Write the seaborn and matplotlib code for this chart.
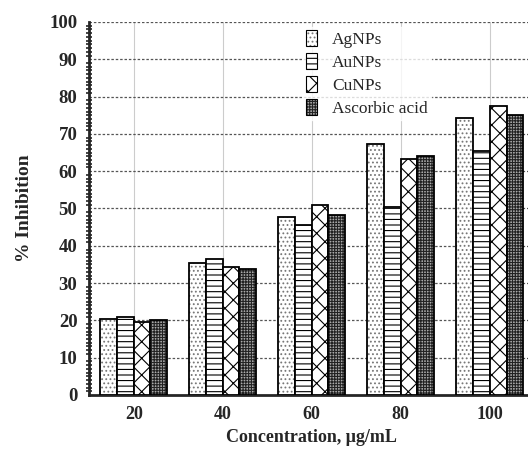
import numpy as np
import pandas as pd
import matplotlib
matplotlib.use("Agg")
import matplotlib.pyplot as plt
import seaborn as sns
from matplotlib.ticker import MultipleLocator

concentrations = ["20", "40", "60", "80", "100"]
agnps = [20.5, 35.3, 47.7, 67.3, 74.2]
aunps = [21.0, 36.5, 45.7, 50.3, 65.3]
cunps = [19.5, 34.2, 50.8, 63.2, 77.5]
ascorbic = [20.0, 33.8, 48.3, 64.2, 75.0]
series_names = ["AgNPs", "AuNPs", "CuNPs", "Ascorbic acid"]

rows = []
for name, vals in zip(series_names, [agnps, aunps, cunps, ascorbic]):
    for c, v in zip(concentrations, vals):
        rows.append({"Concentration": c, "Inhibition": v, "Sample": name})
df = pd.DataFrame(rows)

sns.set_style("white")
plt.rcParams['font.family'] = ['Liberation Serif', 'DejaVu Serif']
plt.rcParams['hatch.linewidth'] = 0.8

fig = plt.figure(figsize=(5.28, 4.58), dpi=100)
ax = fig.add_axes([0.169, 0.1376, 0.843, 0.8144])

sns.barplot(data=df, x="Concentration", y="Inhibition", hue="Sample",
            order=concentrations, hue_order=series_names,
            width=0.75, palette=["white", "white", "white", "#bbbbbb"],
            edgecolor="black", linewidth=1.3, ax=ax, zorder=3)

hatches = ["....", "---", "xx", "++++++"]
hcolors = ["#777777", "black", "black", "#222222"]
fcolors = ["white", "white", "white", "#aaaaaa"]
for cont, h, hc, fc in zip(ax.containers, hatches, hcolors, fcolors):
    for bar in cont:
        bar.set_hatch(h)
        bar.set_facecolor(fc)
        bar._hatch_color = matplotlib.colors.to_rgba(hc)

ax.set_ylim(0, 100)
ax.set_xlim(-0.5, 4.5)
ax.yaxis.set_major_locator(MultipleLocator(10))
ax.yaxis.set_minor_locator(MultipleLocator(1))
ax.set_xticks(np.arange(-0.5, 5.0, 1.0), minor=False)
ax.set_xticks(np.arange(0, 5), minor=True)
ax.set_xticklabels([""] * 6)
ax.set_xticklabels(concentrations, minor=True)
ax.tick_params(axis='x', which='minor', length=0, labelsize=13, pad=8)
ax.tick_params(axis='x', which='major', direction='inout', length=8, width=2)
ax.tick_params(axis='y', which='major', direction='inout', length=10, width=1.5, labelsize=13.5)
ax.tick_params(axis='y', which='minor', direction='inout', length=5, width=1.2, left=True)
for lab in ax.get_yticklabels() + ax.get_xticklabels(minor=True):
    lab.set_fontweight('bold')

ax.grid(False)
for y in range(10, 101, 10):
    ax.axhline(y, color="#555555", linestyle=(0, (2, 1.5)), linewidth=0.9, zorder=1)
for x in range(5):
    ax.axvline(x, color="#cccccc", linewidth=0.8, zorder=0)

for s in ["top", "right"]:
    ax.spines[s].set_visible(False)
ax.spines["left"].set_linewidth(2)
ax.spines["bottom"].set_linewidth(2)

ax.set_xlabel("Concentration, μg/mL", fontsize=13, fontweight='bold', labelpad=4)
ax.set_ylabel("% Inhibition", fontsize=14, fontweight='bold', labelpad=12)

leg = ax.legend(loc="upper left", bbox_to_anchor=(0.46, 1.01), frameon=True,
                fontsize=12.5, handlelength=0.6, handleheight=1.0, handletextpad=0.9,
                labelspacing=0.3, borderpad=0.2)
leg.get_frame().set_facecolor("white")
leg.get_frame().set_edgecolor("white")
leg.set_zorder(5)
for hnd, h, hc, fc in zip(leg.legend_handles, hatches, hcolors, fcolors):
    hnd.set_hatch(h)
    hnd.set_facecolor(fc)
    hnd.set_linewidth(0.8)
    hnd._hatch_color = matplotlib.colors.to_rgba(hc)

fig.savefig("out.png", dpi=100)
